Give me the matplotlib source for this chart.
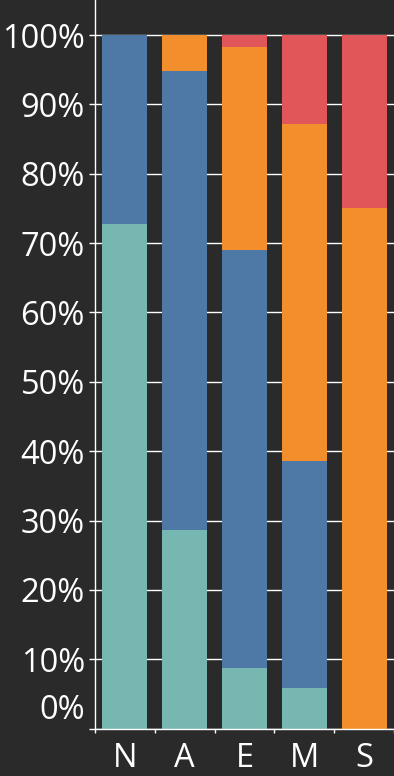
import matplotlib.pyplot as plt
from matplotlib.transforms import ScaledTranslation

# data
categories = ['N', 'A', 'E', 'M', 'S']
teal = [72.7, 28.6, 8.7, 5.9, 0.0]
blue = [27.3, 66.2, 60.3, 32.7, 0.0]
orange = [0.0, 5.2, 29.3, 48.6, 75.0]
red = [0.0, 0.0, 1.7, 12.8, 25.0]
y_ticks = [0, 10, 20, 30, 40, 50, 60, 70, 80, 90, 100]
y_labels = ['%d%%' % v for v in y_ticks]

bg = '#2a2a2a'
plt.rcParams['font.family'] = ['Open Sans', 'DejaVu Sans']

fig = plt.figure(figsize=(3.94, 7.76), dpi=100, facecolor=bg)
ax = fig.add_axes([95 / 394, 47.4 / 776, 299 / 394, 728.6 / 776])
ax.set_facecolor(bg)

x = range(len(categories))
bottom = [0.0] * len(categories)
for vals, col in [(teal, '#76b7b2'), (blue, '#4e79a7'),
                  (orange, '#f28e2b'), (red, '#e15759')]:
    ax.bar(x, vals, width=0.75, bottom=bottom, color=col, zorder=2,
           linewidth=0)
    bottom = [b + v for b, v in zip(bottom, vals)]

ax.set_xlim(-0.5, 4.5)
ax.set_ylim(0, 105.05)

# grid
ax.set_yticks(y_ticks)
ax.set_yticklabels(y_labels)
ax.yaxis.grid(True, color='white', linewidth=1.0, zorder=1)
ax.set_axisbelow(True)

for s in ['top', 'right']:
    ax.spines[s].set_visible(False)
for s in ['left', 'bottom']:
    ax.spines[s].set_color('white')
    ax.spines[s].set_linewidth(1.0)
    ax.spines[s].set_zorder(3)

ax.tick_params(axis='y', colors='white', length=4.3, width=1.0,
               labelsize=23.5, pad=3)
ax.set_xticks(list(x))
ax.set_xticklabels(categories)
ax.set_xticks([i + 0.5 for i in range(-1, len(categories))], minor=True)
ax.tick_params(axis='x', which='major', length=0, colors='white',
               labelsize=23.5, pad=10)
ax.tick_params(axis='x', which='minor', length=3, width=1.0, color='white')

# lift the 0% label up like in the original
lbl0 = ax.get_yticklabels()[0]
lbl0.set_transform(lbl0.get_transform() +
                   ScaledTranslation(0, 0.22, fig.dpi_scale_trans))

fig.savefig('out.png', dpi=100, facecolor=bg)
